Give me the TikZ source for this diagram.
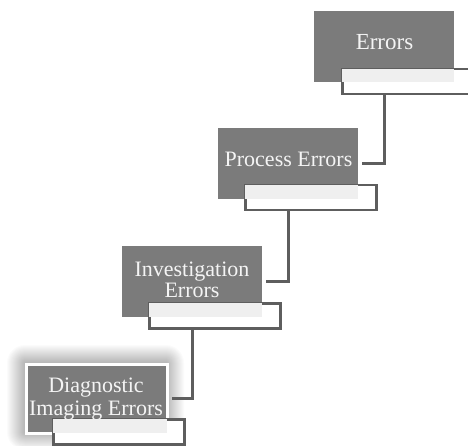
\documentclass[tikz,border=0pt]{standalone}
\usepackage{fontspec}
\setmainfont{Liberation Serif}
\definecolor{boxgray}{HTML}{7B7B7B}
\definecolor{linegray}{HTML}{5E5E5E}
\definecolor{overlapgray}{HTML}{EFEFEF}
\definecolor{txtgray}{HTML}{F4F4F4}
\begin{document}
\begin{tikzpicture}[x=1pt,y=-1pt,
  mainbox/.style={fill=boxgray, minimum width=140pt, minimum height=71pt, inner sep=0pt, draw=none, anchor=north west},
  subbox/.style={fill=white, draw=linegray, line width=2.5pt, minimum width=131pt, minimum height=25pt, inner sep=0pt, anchor=north west},
  conn/.style={draw=linegray, line width=3pt},
  lbl/.style={text=txtgray, font=\fontsize{22}{21}\selectfont, inner sep=0pt, align=center}]
\fill[white] (0,0) rectangle (468,446);
\useasboundingbox (0,0) rectangle (468,446);
% glow around the first step
\foreach \i in {1,...,18}
  \fill[black, opacity=0.014, rounded corners=\i pt] ({25-\i},{363-\i}) rectangle ({166+\i},{432+\i});
% main boxes
\node[mainbox] (b1) at (314,11) {};
\node[mainbox] (b2) at (218,128) {};
\node[mainbox] (b3) at (122,246) {};
\node[mainbox, minimum width=141pt, minimum height=69pt, draw=white, line width=2.5pt] (b4) at (25,363) {};
% sub boxes
\node[subbox] (s1) at (341,68) {};
\node[subbox] (s2) at (244,184) {};
\node[subbox] (s3) at (148,302) {};
\node[subbox] (s4) at (52,418) {};
% overlap tint
\fill[overlapgray] ([shift={(1.25,1.25)}]s1.north west) rectangle (b1.south east);
\fill[overlapgray] ([shift={(1.25,1.25)}]s2.north west) rectangle (b2.south east);
\fill[overlapgray] ([shift={(1.25,1.25)}]s3.north west) rectangle (b3.south east);
\fill[overlapgray] ([shift={(1.25,1.25)}]s4.north west) rectangle ([shift={(-1.25,-1.25)}]b4.south east);
% connectors
\draw[conn, shorten >=4pt] (b1.center |- s1.south) |- (b2.east);
\draw[conn, shorten >=4pt] (b2.center |- s2.south) |- (b3.east);
\draw[conn, shorten >=3pt] (b3.center |- s3.south) |- (b4.east);
% labels
\node[lbl, font=\fontsize{23}{23}\selectfont, anchor=base] (t1) at (384.5,50) {Errors};
\node[lbl, anchor=base] (t2) at (288.5,167) {Process Errors};
\node[lbl, anchor=north, font=\fontsize{22}{21}\selectfont] (t3) at (192,262) {Investigation\\Errors};
\node[lbl, anchor=north, font=\fontsize{22}{23}\selectfont] (t4) at (96,378) {Diagnostic\\Imaging Errors};
\end{tikzpicture}
\end{document}
